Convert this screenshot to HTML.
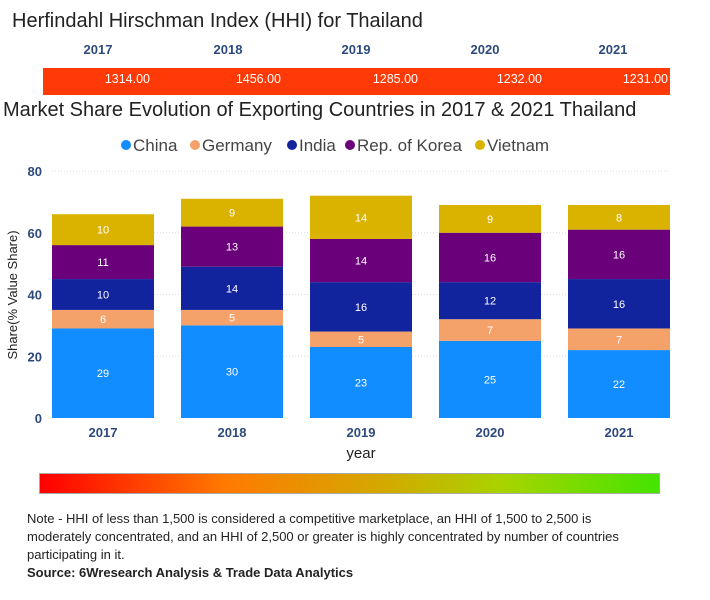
<!DOCTYPE html>
<html><head><meta charset="utf-8"><style>
body{margin:0;width:710px;height:600px;background:#fff;font-family:"Liberation Sans",sans-serif;overflow:hidden;position:relative}
.abs{position:absolute}
</style></head><body>
<div class="abs" style="left:12px;top:10px;font-size:20px;color:#222">Herfindahl Hirschman Index (HHI) for Thailand</div>
<div id="hhi"></div>
<div class="abs" style="left:43px;top:68px;width:627px;height:27px;background:#FF3A06"></div>
<div class="abs" style="left:3px;top:99px;font-size:20px;color:#222">Market Share Evolution of Exporting Countries in 2017 &amp; 2021 Thailand</div>
<svg id="chart" class="abs" style="left:0;top:0" width="710" height="600"></svg>
<div class="abs" style="left:39px;top:473px;width:619px;height:19px;border:1px solid #aaa;background:linear-gradient(to right,#ff0000,#ff7a00 30%,#d4a800 55%,#a8d400 75%,#44e400)"></div>
<div class="abs" style="left:27px;top:510px;width:680px;white-space:nowrap;font-size:13px;line-height:18px;color:#222">Note - HHI of less than 1,500 is considered a competitive marketplace, an HHI of 1,500 to 2,500 is<br>moderately concentrated, and an HHI of 2,500 or greater is highly concentrated by number of countries<br>participating in it.</div>
<div class="abs" style="left:27px;top:565px;font-size:13px;font-weight:bold;color:#222">Source: 6Wresearch Analysis &amp; Trade Data Analytics</div>
<script>
const years=["2017","2018","2019","2020","2021"];
const hhiValues=["1314.00","1456.00","1285.00","1232.00","1231.00"];
const seriesNames=["China","Germany","India","Rep. of Korea","Vietnam"];
const china=[29,30,23,25,22];
const germany=[6,5,5,7,7];
const india=[10,14,16,12,16];
const korea=[11,13,14,16,16];
const vietnam=[10,9,14,9,8];
const yTicks=[0,20,40,60,80];
</script>
<script>
const hhiX=[98,228,356,485,613];
const hhiRight=[150,281,418,542,668];
const hhiBox=document.getElementById('hhi');
years.forEach((y,i)=>{
 const d=document.createElement('div');d.className='abs';
 d.style.cssText=`left:${hhiX[i]-30}px;top:42px;width:60px;text-align:center;font-size:13px;font-weight:bold;color:#2E4A7D`;
 d.textContent=y;
 
 
 hhiBox.appendChild(d);
 const v=document.createElement('div');v.className='abs';
 v.style.cssText=`left:${hhiRight[i]-80}px;top:72px;width:80px;text-align:right;font-size:12.5px;color:#fff;z-index:2`;
 v.textContent=hhiValues[i];
 
 
 hhiBox.appendChild(v);
});
const svg=document.getElementById('chart');const NS='http://www.w3.org/2000/svg';
function el(t,a,txt){const e=document.createElementNS(NS,t);for(const k in a)e.setAttribute(k,a[k]);if(txt!==undefined)e.textContent=txt;svg.appendChild(e);return e;}
const y0=418,y1=171,yMax=80;
const yS=v=>y0-(v/yMax)*(y0-y1);
const xC=i=>103+i*129;const bw=102;
const colors=["#118DFF","#F5A26A","#12239E","#6B007B","#D9B300"];
const series=[china,germany,india,korea,vietnam];
yTicks.forEach(t=>{
 if(t>0){const g=el('line',{x1:52,x2:670,y1:yS(t),y2:yS(t),stroke:'#ddd','stroke-dasharray':'1,2'});}
 const l=el('text',{x:42,y:yS(t)+5,'text-anchor':'end','font-size':13,'font-weight':'bold',fill:'#2E4A7D'},t);
 
});
years.forEach((yr,i)=>{
 let acc=0;
 series.forEach((s,k)=>{
  const v=s[i];const top=yS(acc+v),bot=yS(acc);
  const r=el('rect',{x:xC(i)-bw/2,y:top,width:bw,height:bot-top,fill:colors[k]});
  
  
  const t=el('text',{x:xC(i),y:(top+bot)/2+4,'text-anchor':'middle','font-size':11,fill:'#fff'},v);
  
  acc+=v;
 });
 const xl=el('text',{x:xC(i),y:437,'text-anchor':'middle','font-size':13,'font-weight':'bold',fill:'#2E4A7D'},yr);
 
});
const xt=el('text',{x:361,y:458,'text-anchor':'middle','font-size':15,fill:'#222'},'year');

const yt=el('text',{x:17,y:295,'text-anchor':'middle','font-size':13,fill:'#222',transform:'rotate(-90 17 295)'},'Share(% Value Share)');

const legX=[121,190,287,345,475];
seriesNames.forEach((n,k)=>{
 const c=el('circle',{cx:legX[k]+5,cy:145,r:5,fill:colors[k]});
 
 const t=el('text',{x:legX[k]+12,y:151,'font-size':17,fill:'#444'},n);
 
});
</script>
</body></html>
